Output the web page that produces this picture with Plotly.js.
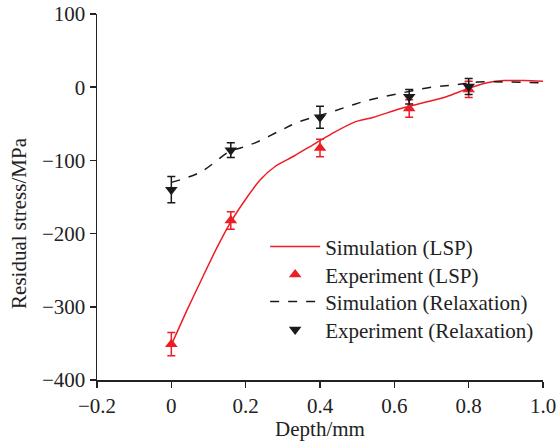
<!DOCTYPE html>
<html>
<head>
<meta charset="utf-8">
<script src="https://cdn.plot.ly/plotly-3.0.1.min.js"></script>
<style>html,body{margin:0;padding:0;background:#fff;}#chart{width:556px;height:441px;}</style>
</head>
<body>
<div id="chart"></div>
<script>
// Simulation (LSP) curve
const simLspX = [0, 0.04, 0.08, 0.12, 0.16, 0.2, 0.24, 0.28, 0.33, 0.38, 0.43, 0.491, 0.545, 0.618, 0.68, 0.74, 0.798, 0.85, 0.895, 0.95, 1.0];
const simLspY = [-352, -307, -264, -222, -184, -153, -126, -108, -94, -79, -64, -48, -41, -29, -21, -13, -2, 6, 9, 9, 8];
// Experiment (LSP)
const expLspX = [0, 0.16, 0.4, 0.64, 0.8];
const expLspY = [-351, -182, -83, -29, -3];
const expLspErr = [16, 12, 12, 12, 11];
// Simulation (Relaxation) curve
const simRelX = [0, 0.078, 0.159, 0.186, 0.23, 0.294, 0.34, 0.429, 0.483, 0.528, 0.6, 0.70, 0.76, 0.825, 0.906, 1.0];
const simRelY = [-130, -116, -87, -83, -75, -59, -48, -34, -25, -18, -10, 0, 3, 7, 7, 6];
// Experiment (Relaxation)
const expRelX = [0, 0.16, 0.4, 0.64, 0.8];
const expRelY = [-140, -86, -41, -13, 1];
const expRelErr = [18, 10, 15, 10, 11];

const red = '#ee1c25';
const black = '#1a1a1a';

const traces = [
  {x: simLspX, y: simLspY, mode: 'lines', name: 'Simulation (LSP)', legend: 'legend',
   line: {color: red, width: 1.5, shape: 'spline', smoothing: 0.7}},
  {x: expLspX, y: expLspY, mode: 'markers', name: 'Experiment (LSP)', legend: 'legend2',
   marker: {symbol: 'triangle-up', size: 11, color: red},
   error_y: {type: 'data', array: expLspErr, visible: true, color: red, thickness: 1.5, width: 4}},
  {x: simRelX, y: simRelY, mode: 'lines', name: 'Simulation (Relaxation)', legend: 'legend3',
   line: {color: black, width: 1.5, dash: '9px,9px', shape: 'spline', smoothing: 1}},
  {x: expRelX, y: expRelY, mode: 'markers', name: 'Experiment (Relaxation)', legend: 'legend4',
   marker: {symbol: 'triangle-down', size: 11, color: black},
   error_y: {type: 'data', array: expRelErr, visible: true, color: black, thickness: 1.5, width: 4}}
];

const fontFam = 'Liberation Serif, Times New Roman, serif';
function leg(y) {
  return {x: 0.377, y: y, xanchor: 'left', yanchor: 'top', bgcolor: 'rgba(0,0,0,0)',
          font: {family: fontFam, size: 21, color: '#222'}, itemwidth: 50};
}
const layout = {
  width: 556, height: 441,
  margin: {l: 97, r: 13, t: 14, b: 61},
  paper_bgcolor: '#fff', plot_bgcolor: '#fff',
  font: {family: fontFam, size: 21, color: '#222'},
  showlegend: true,
  legend: leg(0.42), legend2: leg(0.3434), legend3: leg(0.2697), legend4: leg(0.1932),
  xaxis: {range: [-0.2, 1.0], tickvals: [-0.2, 0, 0.2, 0.4, 0.6, 0.8, 1.0],
          ticktext: ['\u22120.2', '0', '0.2', '0.4', '0.6', '0.8', '1.0'],
          ticklabeloverflow: 'allow',
          showgrid: false, zeroline: false, showline: true, linecolor: '#222', linewidth: 1.5,
          ticks: 'outside', ticklen: 6, tickwidth: 1.5, tickcolor: '#222',
          title: {text: 'Depth/mm', font: {family: fontFam, size: 21}, standoff: 4}},
  yaxis: {range: [-400, 100], tickvals: [-400, -300, -200, -100, 0, 100],
          ticktext: ['\u2212400', '\u2212300', '\u2212200', '\u2212100', '0', '100'],
          ticklabeloverflow: 'allow',
          showgrid: false, zeroline: false, showline: true, linecolor: '#222', linewidth: 1.5,
          ticks: 'outside', ticklen: 6, tickwidth: 1.5, tickcolor: '#222'},
  annotations: [
    {text: 'Residual stress/MPa', xref: 'paper', yref: 'paper', x: -0.175, y: 0.429,
     xanchor: 'center', yanchor: 'middle', textangle: -90, showarrow: false,
     font: {family: fontFam, size: 21, color: '#222'}}
  ]
};

Plotly.newPlot('chart', traces, layout, {displayModeBar: false, staticPlot: true});
</script>
</body>
</html>
